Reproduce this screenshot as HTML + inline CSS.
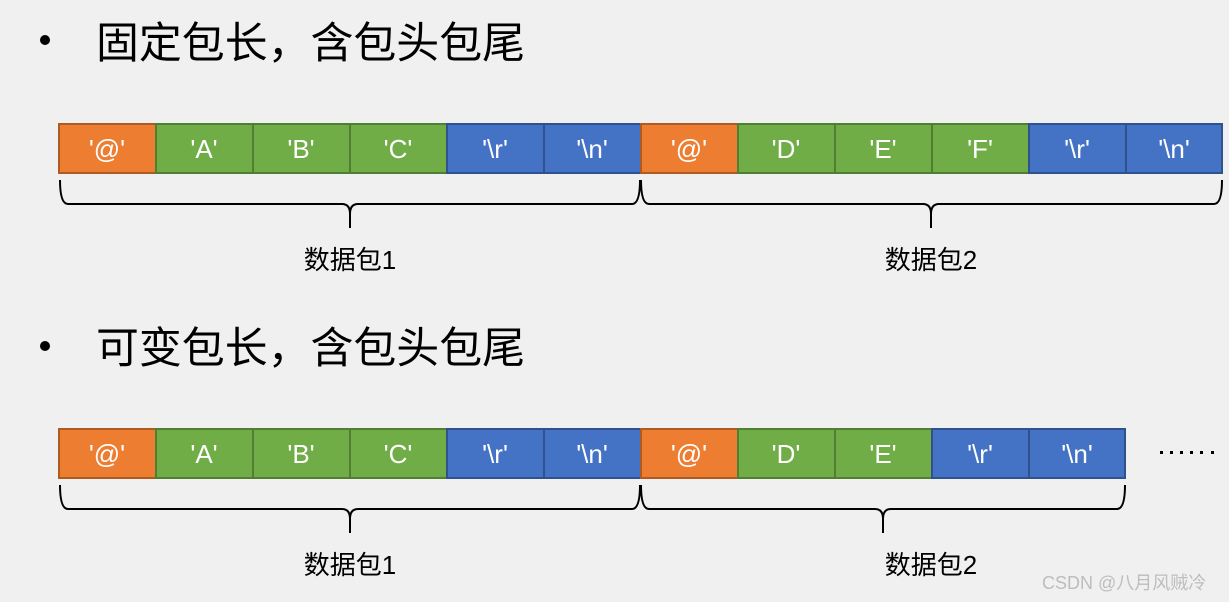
<!DOCTYPE html>
<html><head><meta charset="utf-8"><style>
html,body{margin:0;padding:0;background:#f0f0f0;}
svg{display:block;}
text{font-family:"Liberation Sans","Noto Sans CJK SC",sans-serif;}
</style></head><body>
<svg width="1229" height="602" viewBox="0 0 1229 602" xmlns="http://www.w3.org/2000/svg">
<rect width="1229" height="602" fill="#f0f0f0"/>
<g fill="#000">
<circle cx="45" cy="40" r="5"/>
<circle cx="45" cy="346" r="5"/>
<text x="96" y="58" font-size="43" textLength="429" lengthAdjust="spacingAndGlyphs">固定包长，含包头包尾</text>
<text x="96" y="363" font-size="43" textLength="429" lengthAdjust="spacingAndGlyphs">可变包长，含包头包尾</text>
</g>
<g id="cells" font-size="26" fill="#fff" text-anchor="middle" stroke-width="2">
<!-- row 1 -->
<rect x="59" y="124" width="97" height="49" fill="#ED7D31" stroke="#AE5A21"/>
<rect x="156" y="124" width="97" height="49" fill="#70AD47" stroke="#507E32"/>
<rect x="253" y="124" width="97" height="49" fill="#70AD47" stroke="#507E32"/>
<rect x="350" y="124" width="97" height="49" fill="#70AD47" stroke="#507E32"/>
<rect x="447" y="124" width="97" height="49" fill="#4472C4" stroke="#2F528F"/>
<rect x="544" y="124" width="97" height="49" fill="#4472C4" stroke="#2F528F"/>
<rect x="641" y="124" width="97" height="49" fill="#ED7D31" stroke="#AE5A21"/>
<rect x="738" y="124" width="97" height="49" fill="#70AD47" stroke="#507E32"/>
<rect x="835" y="124" width="97" height="49" fill="#70AD47" stroke="#507E32"/>
<rect x="932" y="124" width="97" height="49" fill="#70AD47" stroke="#507E32"/>
<rect x="1029" y="124" width="97" height="49" fill="#4472C4" stroke="#2F528F"/>
<rect x="1126" y="124" width="96" height="49" fill="#4472C4" stroke="#2F528F"/>
<text x="107" y="158">'@'</text><text x="204" y="158">'A'</text><text x="301" y="158">'B'</text><text x="398" y="158">'C'</text><text x="495" y="158">'\r'</text><text x="592" y="158">'\n'</text>
<text x="689" y="158">'@'</text><text x="786" y="158">'D'</text><text x="883" y="158">'E'</text><text x="980" y="158">'F'</text><text x="1077" y="158">'\r'</text><text x="1174" y="158">'\n'</text>
<!-- row 2 -->
<rect x="59" y="429" width="97" height="49" fill="#ED7D31" stroke="#AE5A21"/>
<rect x="156" y="429" width="97" height="49" fill="#70AD47" stroke="#507E32"/>
<rect x="253" y="429" width="97" height="49" fill="#70AD47" stroke="#507E32"/>
<rect x="350" y="429" width="97" height="49" fill="#70AD47" stroke="#507E32"/>
<rect x="447" y="429" width="97" height="49" fill="#4472C4" stroke="#2F528F"/>
<rect x="544" y="429" width="97" height="49" fill="#4472C4" stroke="#2F528F"/>
<rect x="641" y="429" width="97" height="49" fill="#ED7D31" stroke="#AE5A21"/>
<rect x="738" y="429" width="97" height="49" fill="#70AD47" stroke="#507E32"/>
<rect x="835" y="429" width="97" height="49" fill="#70AD47" stroke="#507E32"/>
<rect x="932" y="429" width="97" height="49" fill="#4472C4" stroke="#2F528F"/>
<rect x="1029" y="429" width="96" height="49" fill="#4472C4" stroke="#2F528F"/>
<text x="107" y="463">'@'</text><text x="204" y="463">'A'</text><text x="301" y="463">'B'</text><text x="398" y="463">'C'</text><text x="495" y="463">'\r'</text><text x="592" y="463">'\n'</text>
<text x="689" y="463">'@'</text><text x="786" y="463">'D'</text><text x="883" y="463">'E'</text><text x="980" y="463">'\r'</text><text x="1077" y="463">'\n'</text>
</g>
<g fill="none" stroke="#000" stroke-width="2">
<path d="M60,180 Q60,204 68,204 L342,204 Q350,204 350,214 L350,228 M350,214 Q350,204 358,204 L632,204 Q640,204 640,180"/>
<path d="M641,180 Q641,204 649,204 L923,204 Q931,204 931,214 L931,228 M931,214 Q931,204 939,204 L1214,204 Q1222,204 1222,180"/>
<path d="M60,485 Q60,509 68,509 L342,509 Q350,509 350,519 L350,533 M350,519 Q350,509 358,509 L632,509 Q640,509 640,485"/>
<path d="M641,485 Q641,509 649,509 L875,509 Q883,509 883,519 L883,533 M883,519 Q883,509 891,509 L1117,509 Q1125,509 1125,485"/>
</g>
<g fill="#000" font-size="26" text-anchor="middle">
<text x="350" y="269">数据包1</text>
<text x="931" y="269">数据包2</text>
<text x="350" y="574">数据包1</text>
<text x="931" y="574">数据包2</text>
</g>
<g fill="#000">
<rect x="1160" y="451" width="3" height="3"/><rect x="1170" y="451" width="3" height="3"/><rect x="1180" y="451" width="3" height="3"/>
<rect x="1190" y="451" width="3" height="3"/><rect x="1200" y="451" width="3" height="3"/><rect x="1211" y="451" width="3" height="3"/>
</g>
<text x="1042" y="589" font-size="18" fill="#bdbdbd">CSDN @八月风贼冷</text>
</svg>
</body></html>
